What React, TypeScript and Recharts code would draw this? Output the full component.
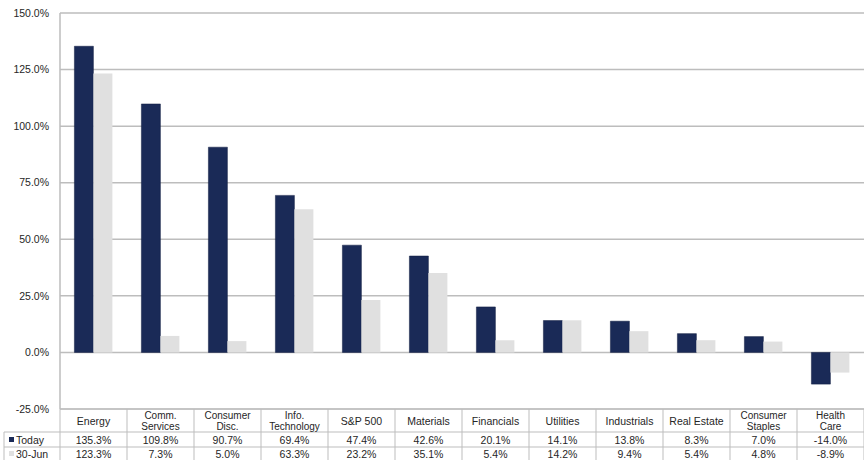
import { Bar, BarChart, CartesianGrid, XAxis, YAxis } from "recharts";

const categories = [
  "Energy",
  "Comm.\nServices",
  "Consumer\nDisc.",
  "Info.\nTechnology",
  "S&P 500",
  "Materials",
  "Financials",
  "Utilities",
  "Industrials",
  "Real Estate",
  "Consumer\nStaples",
  "Health\nCare",
];
const todayValues = [135.3, 109.8, 90.7, 69.4, 47.4, 42.6, 20.1, 14.1, 13.8, 8.3, 7.0, -14.0];
const juneValues = [123.3, 7.3, 5.0, 63.3, 23.2, 35.1, 5.4, 14.2, 9.4, 5.4, 4.8, -8.9];
const seriesNames = ["Today", "30-Jun"];
const yTicks = [-25, 0, 25, 50, 75, 100, 125, 150];

const NAVY = "#1a2a57";
const LIGHT = "#e0e0e0";
const GRID = "#bdbdbd";
const TEXT = "#262626";
const FONT = "'Liberation Sans', Arial, sans-serif";

const WIDTH = 864;
const HEIGHT = 460;
const Y_AXIS_W = 60;
const COL_W = (WIDTH - Y_AXIS_W) / categories.length;

const data = categories.map((name, i) => ({
  name,
  today: todayValues[i],
  june: juneValues[i],
}));

const fmt = (v: number) => `${v.toFixed(1)}%`;

function TableTick(props: any) {
  const { x, y, payload } = props;
  const i: number = payload.index;
  const left = x - COL_W / 2;
  const right = x + COL_W / 2;
  const lines = String(payload.value).split("\n");
  const r1 = y + 23;
  const r2 = y + 38;
  const textProps = {
    fontFamily: FONT,
    fontSize: 10.5,
    fill: TEXT,
    textAnchor: "middle" as const,
    dominantBaseline: "central" as const,
  };
  return (
    <g>
      <line x1={right} x2={right} y1={y} y2={HEIGHT} stroke={GRID} />
      <line x1={left} x2={right} y1={r1} y2={r1} stroke={GRID} />
      <line x1={left} x2={right} y1={r2} y2={r2} stroke={GRID} />
      {i === 0 && (
        <g>
          <line x1={left} x2={left} y1={y} y2={HEIGHT} stroke={GRID} />
          <line x1={4} x2={left} y1={r1} y2={r1} stroke={GRID} />
          <line x1={4} x2={left} y1={r2} y2={r2} stroke={GRID} />
          <line x1={4} x2={4} y1={r1} y2={HEIGHT} stroke={GRID} />
          <rect x={9} y={r1 + 5} width={5} height={5} fill={NAVY} />
          <text {...textProps} textAnchor="start" x={16} y={r1 + 7.5}>
            {seriesNames[0]}
          </text>
          <rect x={9} y={r2 + 4} width={5} height={5} fill={LIGHT} />
          <text {...textProps} textAnchor="start" x={16} y={r2 + 6.5}>
            {seriesNames[1]}
          </text>
        </g>
      )}
      {lines.length === 1 ? (
        <text {...textProps} x={x} y={y + 12}>
          {lines[0]}
        </text>
      ) : (
        lines.map((l, k) => (
          <text key={k} {...textProps} fontSize={10} x={x} y={y + 6 + k * 11}>
            {l}
          </text>
        ))
      )}
      <text {...textProps} x={x} y={r1 + 7.5}>
        {fmt(todayValues[i])}
      </text>
      <text {...textProps} x={x} y={r2 + 6.5}>
        {fmt(juneValues[i])}
      </text>
    </g>
  );
}

export default function App() {
  return (
    <div style={{ position: "absolute", left: 0, top: 0, background: "#fff" }}>
      <BarChart
        width={WIDTH}
        height={HEIGHT}
        data={data}
        margin={{ top: 13, right: 0, bottom: 0, left: 0 }}
        barCategoryGap="21.5%"
        barGap={0}
      >
        <CartesianGrid stroke={GRID} strokeWidth={1.5} vertical={false} />
        <XAxis
          dataKey="name"
          interval={0}
          height={51}
          tickLine={false}
          tickSize={0}
          tickMargin={0}
          axisLine={{ stroke: GRID }}
          tick={<TableTick />}
        />
        <YAxis
          width={Y_AXIS_W}
          domain={[-25, 150]}
          ticks={yTicks}
          interval={0}
          tickLine={false}
          tickSize={0}
          tickMargin={11}
          axisLine={{ stroke: GRID, strokeWidth: 1.5 }}
          tick={{ fill: TEXT, fontSize: 10.5, fontFamily: FONT }}
          tickFormatter={(v: number) => fmt(v)}
        />
        <Bar dataKey="today" name={seriesNames[0]} fill={NAVY} stroke="#101c40" strokeWidth={0.5} isAnimationActive={false} />
        <Bar dataKey="june" name={seriesNames[1]} fill={LIGHT} isAnimationActive={false} />
      </BarChart>
    </div>
  );
}
